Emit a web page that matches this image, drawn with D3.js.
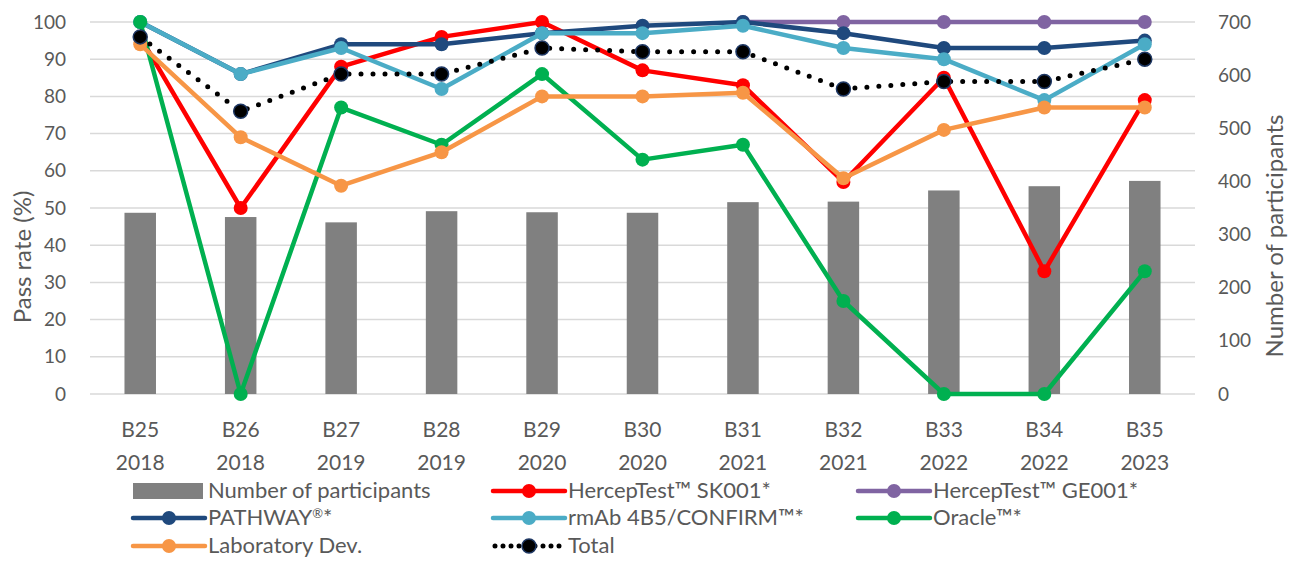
<!DOCTYPE html>
<html><head><meta charset="utf-8">
<script src="https://cdn.jsdelivr.net/npm/d3@7"></script>
<style>body{margin:0;background:#fff}svg{display:block}text{font-family:Lato,"Open Sans",sans-serif;fill:#595959}</style>
</head><body><svg id="c" width="1301" height="561"></svg>
<script>
const rounds = ["B25","B26","B27","B28","B29","B30","B31","B32","B33","B34","B35"];
const years = ["2018","2018","2019","2019","2020","2020","2021","2021","2022","2022","2023"];
const participants = [341,333,323,344,342,341,361,362,383,391,401];
const sk001 = [96,50,88,96,100,87,83,57,85,33,79];
const ge001 = [null,null,null,null,null,null,100,100,100,100,100];
const pathway = [100,86,94,94,97,99,100,97,93,93,95];
const rmab = [100,86,93,82,97,97,99,93,90,79,94];
const oracle = [100,0,77,67,86,63,67,25,0,0,33];
const labDev = [94,69,56,65,80,80,81,58,71,77,77];
const total = [96,76,86,86,93,92,92,82,84,84,90];
const leftTicks = [0,10,20,30,40,50,60,70,80,90,100];
const rightTicks = [0,100,200,300,400,500,600,700];

const series = [
  {name:"HercepTest™ SK001*", values:sk001, color:"#ff0000"},
  {name:"HercepTest™ GE001*", values:ge001, color:"#8064a2"},
  {name:"PATHWAY®*", values:pathway, color:"#1f497d"},
  {name:"rmAb 4B5/CONFIRM™*", values:rmab, color:"#4bacc6"},
  {name:"Oracle™*", values:oracle, color:"#00b050"},
  {name:"Laboratory Dev.", values:labDev, color:"#f79646"},
  {name:"Total", values:total, color:"#000000", dotted:true}
];

const svg = d3.select("#c");
const m = {l:90, r:1195, t:22, b:394};
const x = d3.scaleBand().domain(rounds).range([m.l, m.r]);
const yL = d3.scaleLinear().domain([0,100]).range([m.b, m.t]);
const yR = d3.scaleLinear().domain([0,700]).range([m.b, m.t]);
const cx = d => x(d) + x.bandwidth()/2;

// gridlines
svg.append("g").selectAll("line").data(leftTicks).join("line")
  .attr("x1", m.l).attr("x2", m.r).attr("y1", d=>yL(d)).attr("y2", d=>yL(d))
  .attr("stroke","#d9d9d9").attr("stroke-width",1.5);

// left axis
const gl = svg.append("g").attr("transform",`translate(${m.l-24},0)`)
  .call(d3.axisLeft(yL).tickValues(leftTicks).tickSize(0).tickPadding(0));
gl.select(".domain").remove();
gl.selectAll("text").attr("font-size",19).style("fill","#595959").attr("font-family","Lato");

const gr = svg.append("g").attr("transform",`translate(${m.r+23},0)`)
  .call(d3.axisRight(yR).tickValues(rightTicks).tickSize(0).tickPadding(0));
gr.select(".domain").remove();
gr.selectAll("text").attr("font-size",19).style("fill","#595959").attr("font-family","Lato");

// x labels
const xl = svg.append("g").selectAll("g").data(rounds).join("g");
xl.append("text").attr("x", d=>cx(d)).attr("y",437).attr("text-anchor","middle").attr("font-size",21).text(d=>d);
xl.append("text").attr("x", d=>cx(d)).attr("y",470).attr("text-anchor","middle").attr("font-size",21).text((d,i)=>years[i]);

// axis titles
svg.append("text").attr("transform","translate(31,257) rotate(-90)").attr("text-anchor","middle").attr("font-size",24).text("Pass rate (%)");
svg.append("text").attr("transform","translate(1283,236) rotate(-90)").attr("text-anchor","middle").attr("font-size",24).text("Number of participants");

// bars
const bw = 31.5;
svg.append("g").selectAll("rect").data(participants).join("rect")
  .attr("x",(d,i)=>cx(rounds[i])-bw/2).attr("width",bw)
  .attr("y",d=>yR(d)).attr("height",d=>yR(0)-yR(d)).attr("fill","#808080");

// lines
const line = d3.line().defined(d=>d.v!=null).x(d=>cx(d.r)).y(d=>yL(d.v));
series.forEach(s=>{
  const pts = s.values.map((v,i)=>({r:rounds[i], v}));
  const g = svg.append("g");
  const p = g.append("path").datum(pts).attr("d",line).attr("fill","none");
  if(s.dotted){
    p.attr("stroke","#000").attr("stroke-width",5).attr("stroke-linecap","round").attr("stroke-dasharray","0,12");
  } else {
    p.attr("stroke",s.color).attr("stroke-width",4.5).attr("stroke-linejoin","round");
  }
  g.selectAll("circle").data(pts.filter(d=>d.v!=null)).join("circle")
    .attr("cx",d=>cx(d.r)).attr("cy",d=>yL(d.v)).attr("r",7)
    .attr("fill",s.dotted?"#000":s.color)
    .attr("stroke",s.dotted?"#1f3864":"none").attr("stroke-width",s.dotted?1.5:0);
});

// legend
const legendItems = [{name:"Number of participants", bar:true}].concat(series);
const colX = [133, 493, 858];
const rowY = [491, 518, 546];
legendItems.forEach((it,i)=>{
  const col = i%3, row = Math.floor(i/3);
  const lx = colX[col], ly = rowY[row];
  const g = svg.append("g");
  if(it.bar){
    g.append("rect").attr("x",lx).attr("y",ly-8).attr("width",70).attr("height",16).attr("fill","#808080");
  } else if(it.dotted){
    g.append("line").attr("x1",lx+2).attr("x2",lx+70).attr("y1",ly).attr("y2",ly)
      .attr("stroke","#000").attr("stroke-width",5).attr("stroke-linecap","round").attr("stroke-dasharray","0,8");
    g.append("circle").attr("cx",lx+36).attr("cy",ly).attr("r",7).attr("fill","#000").attr("stroke","#1f3864").attr("stroke-width",1.5);
  } else {
    g.append("line").attr("x1",lx).attr("x2",lx+72).attr("y1",ly).attr("y2",ly)
      .attr("stroke",it.color).attr("stroke-width",4.5).attr("stroke-linecap","round");
    g.append("circle").attr("cx",lx+36).attr("cy",ly).attr("r",7).attr("fill",it.color);
  }
  const t = g.append("text").attr("x",lx+75).attr("y",ly+7).attr("font-size",22);
  if(it.name.includes("®")){
    const parts = it.name.split("®");
    t.append("tspan").text(parts[0]);
    t.append("tspan").attr("font-size",13).attr("dy",-7).text("®");
    t.append("tspan").attr("dy",7).text(parts[1]);
  } else t.text(it.name);
});
</script></body></html>
